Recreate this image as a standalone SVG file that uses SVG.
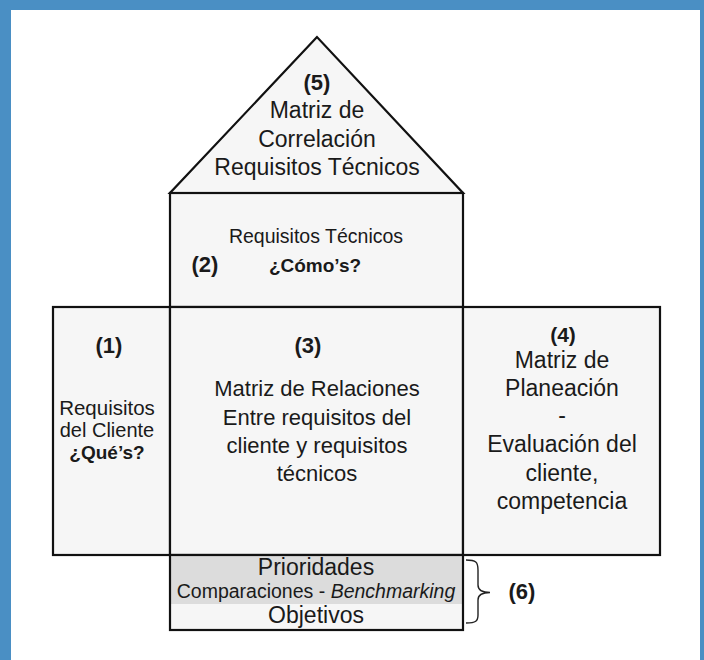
<svg xmlns="http://www.w3.org/2000/svg" width="704" height="660" viewBox="0 0 704 660">
<style>
.shape{fill:#f6f6f6;stroke:#111;stroke-width:2.2}
.t{font-family:"Liberation Sans",Arial,sans-serif;fill:#1a1a1a;text-anchor:middle}
.b{font-weight:bold}
</style>
<rect x="0" y="0" width="704" height="660" fill="#4a8fc4"/>
<rect x="11" y="10" width="689" height="650" fill="#ffffff"/>
<g id="node5">
<polygon class="shape" points="317,37 170,193 463,193"/>
<text class="t b" x="317" y="90" font-size="22">(5)</text>
<text class="t" x="317" y="118" font-size="23">Matriz de</text>
<text class="t" x="317" y="147" font-size="23">Correlación</text>
<text class="t" x="317" y="175" font-size="23">Requisitos Técnicos</text>
</g>
<g id="node2">
<rect class="shape" x="170" y="193" width="293" height="114"/>
<text class="t" x="316" y="243" font-size="19.5">Requisitos Técnicos</text>
<text class="t b" x="205" y="272" font-size="22">(2)</text>
<text class="t b" x="315" y="272" font-size="19">¿Cómo’s?</text>
</g>
<g id="node1">
<rect class="shape" x="53" y="307" width="117" height="248"/>
<text class="t b" x="109" y="353" font-size="22">(1)</text>
<text class="t" x="107" y="415" font-size="20.5">Requisitos</text>
<text class="t" x="107" y="437" font-size="20">del Cliente</text>
<text class="t b" x="107" y="459" font-size="19">¿Qué’s?</text>
</g>
<g id="node3">
<rect class="shape" x="170" y="307" width="293" height="248"/>
<text class="t b" x="308" y="353" font-size="22">(3)</text>
<text class="t" x="317" y="396" font-size="22">Matriz de Relaciones</text>
<text class="t" x="317" y="425" font-size="22">Entre requisitos del</text>
<text class="t" x="317" y="453" font-size="22">cliente y requisitos</text>
<text class="t" x="317" y="481" font-size="22">técnicos</text>
</g>
<g id="node4">
<rect class="shape" x="463" y="307" width="197" height="248"/>
<text class="t b" x="563" y="342" font-size="21">(4)</text>
<text class="t" x="562" y="368" font-size="23">Matriz de</text>
<text class="t" x="562" y="396" font-size="23">Planeación</text>
<text class="t" x="562" y="423" font-size="23">-</text>
<text class="t" x="562" y="452" font-size="23">Evaluación del</text>
<text class="t" x="562" y="481" font-size="23">cliente,</text>
<text class="t" x="562" y="509" font-size="23">competencia</text>
</g>
<g id="node6">
<rect x="170" y="555" width="293" height="49" fill="#dcdcdc"/>
<rect x="170" y="604" width="293" height="26" fill="#f6f6f6"/>
<rect x="170" y="555" width="293" height="75" fill="none" stroke="#111" stroke-width="2.2"/>
<text class="t" x="316" y="575" font-size="23">Prioridades</text>
<text class="t" x="316" y="598" font-size="19.5">Comparaciones - <tspan font-style="italic">Benchmarking</tspan></text>
<text class="t" x="316" y="623" font-size="23">Objetivos</text>
</g>
<g id="connectors">
<path d="M466,560 C476,560 478,562 478,570 L478,585 C478,590 482,592.5 490,592.5 C482,592.5 478,595 478,600 L478,615 C478,621 476,623 466,623" fill="none" stroke="#222" stroke-width="1.4"/>
<text class="t b" x="522" y="599" font-size="22">(6)</text>
</g>
</svg>
